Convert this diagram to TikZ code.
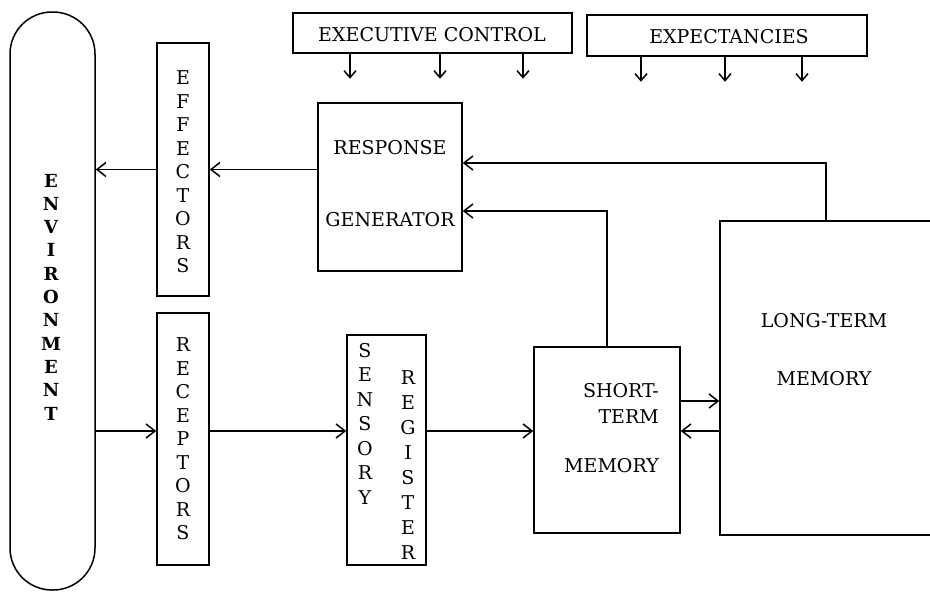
\documentclass[tikz,border=0pt]{standalone}
\usepackage{fontspec}
\setmainfont{DejaVu Serif}
\usetikzlibrary{arrows.meta}
\usetikzlibrary{positioning}

\tikzset{
  box/.style={draw, line width=1.5pt, inner sep=0pt},
  lbl/.style={font=\fontsize{19}{23.5}\selectfont, align=center, inner sep=0pt},
  arr/.style={line width=1.5pt, -{Straight Barb[length=9pt,width=14pt,line width=1.5pt]}},
  tick/.style={line width=1.5pt, -{Straight Barb[length=7pt,width=12pt,line width=1.5pt]}},
}

\begin{document}
\begin{tikzpicture}[x=1pt,y=-1pt]
            \useasboundingbox (0,0) rectangle (930,592);
            \clip (0,0) rectangle (930,592);

            % Environment
            \node[box, rounded corners=42pt, minimum width=85pt, minimum height=578pt] (env) at (52.5,301) {};
            \node[lbl, font=\bfseries\fontsize{18}{23.3}\selectfont] (envtxt) at (51,297) {E\\N\\V\\I\\R\\O\\N\\M\\E\\N\\T};

            % Effectors and receptors
            \node[box, minimum width=52pt, minimum height=253pt] (eff) at (183,169.5) {};
            \node[lbl] (efftxt) at (183,172) {E\\F\\F\\E\\C\\T\\O\\R\\S};
            \node[box, minimum width=52pt, minimum height=252pt] (rec) at (183,439) {};
            \node[lbl] (rectxt) at (183,439) {R\\E\\C\\E\\P\\T\\O\\R\\S};

            % Sensory register
            \node[box, minimum width=79pt, minimum height=230pt] (sreg) at (386.5,450) {};
            \node[lbl, font=\fontsize{19}{24.5}\selectfont] (sregA) at (365,423.5) {S\\E\\N\\S\\O\\R\\Y};
            \node[lbl, font=\fontsize{19}{24.9}\selectfont] (sregB) at (408,465) {R\\E\\G\\I\\S\\T\\E\\R};

            % Response generator
            \node[box, minimum width=144pt, minimum height=168pt] (rg) at (390,187) {};
            \node[lbl] (rgtxt) at (390,184) {RESPONSE\\[48.5pt]GENERATOR};

            % Executive control and expectancies
            \node[box, minimum width=279pt, minimum height=40pt] (exec) at (432.5,33) {};
            \node[lbl] (exectxt) at (432,35) {EXECUTIVE CONTROL};
            \node[box, minimum width=280pt, minimum height=41pt] (expc) at (727,35.5) {};
            \node[lbl] (expctxt) at (729,37) {EXPECTANCIES};
            \foreach \x in {350,440,523}
              \draw[tick] (exec.south -| \x,0) -- ++(0,25);
            \foreach \x in {641,725,802}
              \draw[tick] (expc.south -| \x,0) -- ++(0,25);

            % Memories
            \node[box, minimum width=146pt, minimum height=186pt] (stm) at (607,440) {};
            \node[lbl, align=right, anchor=east] (stmtxt) at (659,428) {SHORT-\\[2.5pt]TERM\\[25.5pt]MEMORY};
            \node[box, minimum width=212pt, minimum height=314pt] (ltm) at (826,378) {};
            \node[lbl] (ltmtxt) at (824,350) {LONG-TERM\\[34.5pt]MEMORY};

            % Rows
            \coordinate (inrow) at (0,431);
            \coordinate (uprow) at (0,401);
            \coordinate (fbA) at (0,211);
            \coordinate (fbB) at (0,163);

            % Output path
            \draw[arr] (eff.east -| rg.west) -- (eff.east);
            \draw[arr] (eff.west) -- (eff.west -| env.east);

            % Input path
            \draw[arr] (env.east |- inrow) -- (rec.west |- inrow);
            \draw[arr] (rec.east |- inrow) -- (sreg.west |- inrow);
            \draw[arr] (sreg.east |- inrow) -- (stm.west |- inrow);
            \draw[arr] (stm.east |- uprow) -- (ltm.west |- uprow);
            \draw[arr] (ltm.west |- inrow) -- (stm.east |- inrow);

            % Feedback to response generator
            \draw[arr] (stm.north) |- (rg.east |- fbA);
            \draw[arr] (ltm.north) |- (rg.east |- fbB);
        \end{tikzpicture}
\end{document}
